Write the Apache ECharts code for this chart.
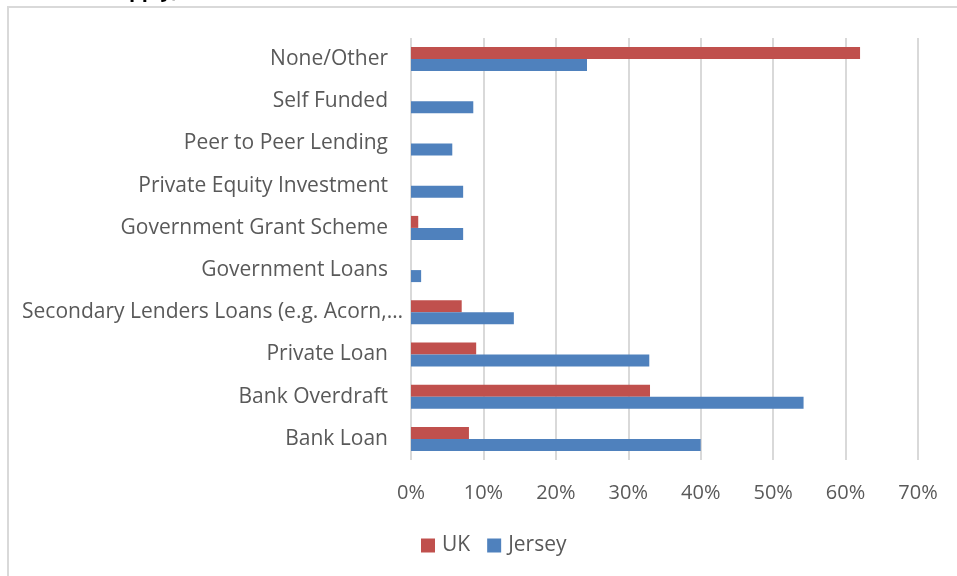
<!DOCTYPE html>
<html>
<head>
<meta charset="utf-8">
<script src="https://cdn.jsdelivr.net/npm/echarts@6/dist/echarts.min.js"></script>
<style>
  html, body { margin: 0; padding: 0; background: #fff; }
  #chart { width: 957px; height: 576px; }
</style>
</head>
<body>
<div id="chart"></div>
<script>
// Funding sources, listed bottom to top as drawn on the category axis
const categories = [
  'Bank Loan',
  'Bank Overdraft',
  'Private Loan',
  'Secondary Lenders Loans (e.g. Acorn,…',
  'Government Loans',
  'Government Grant Scheme',
  'Private Equity Investment',
  'Peer to Peer Lending',
  'Self Funded',
  'None/Other'
];

// Share of respondents (%) per funding source
const ukValues     = [8.0, 33.0, 9.0, 7.0, 0, 1.0, 0, 0, 0, 62.0];
const jerseyValues = [40.0, 54.2, 32.9, 14.2, 1.4, 7.2, 7.2, 5.7, 8.6, 24.3];

const xTicks = [0, 10, 20, 30, 40, 50, 60, 70];

const FONT = "'Open Sans', sans-serif";
const TEXT = '#595959';
const GRID = '#d9d9d9';

const chart = echarts.init(document.getElementById('chart'), null, { renderer: 'canvas' });

chart.setOption({
  animation: false,
  backgroundColor: '#ffffff',
  textStyle: { fontFamily: FONT },
  graphic: [
    {
      type: 'rect',
      silent: true,
      shape: { x: 8, y: 7, width: 1200, height: 800 },
      style: { fill: 'none', stroke: GRID, lineWidth: 2 }
    },
    {
      type: 'text',
      silent: true,
      style: {
        x: 117, y: 1,
        text: 'apply)',
        font: "bold 20px " + FONT,
        fill: '#000000',
        verticalAlign: 'bottom'
      }
    }
  ],
  grid: { left: 411, right: 39, top: 38, bottom: 116, containLabel: false },
  legend: {
    top: 535,
    left: 421,
    padding: 0,
    itemWidth: 14,
    itemHeight: 14,
    itemGap: 17,
    icon: 'rect',
    textStyle: { color: TEXT, fontSize: 21, fontFamily: FONT, padding: [0, 0, 0, 2] },
    data: ['UK', 'Jersey']
  },
  xAxis: {
    type: 'value',
    min: xTicks[0],
    max: xTicks[xTicks.length - 1],
    interval: 10,
    axisLine: { show: false },
    axisTick: { show: false },
    splitLine: { show: true, lineStyle: { color: GRID, width: 2 } },
    axisLabel: {
      color: TEXT,
      fontSize: 20,
      fontFamily: FONT,
      margin: 23,
      formatter: v => v + '%'
    }
  },
  yAxis: {
    type: 'category',
    data: categories,
    axisLine: { show: false },
    axisTick: { show: false },
    splitLine: { show: false },
    axisLabel: {
      color: TEXT,
      fontSize: 21,
      fontFamily: FONT,
      margin: 23,
      // the truncated label runs a little past the common right edge
      formatter: v => v.endsWith('…') ? '{long|' + v + '}' : v,
      rich: {
        long: { color: TEXT, fontSize: 21, fontFamily: FONT, padding: [0, -15, 0, 0] }
      }
    }
  },
  series: [
    {
      name: 'UK',
      type: 'bar',
      data: ukValues,
      barWidth: 12,
      barGap: '0%',
      itemStyle: { color: '#c0504d' }
    },
    {
      name: 'Jersey',
      type: 'bar',
      data: jerseyValues,
      barWidth: 12,
      barGap: '0%',
      itemStyle: { color: '#4f81bd' }
    }
  ]
});
</script>
</body>
</html>
